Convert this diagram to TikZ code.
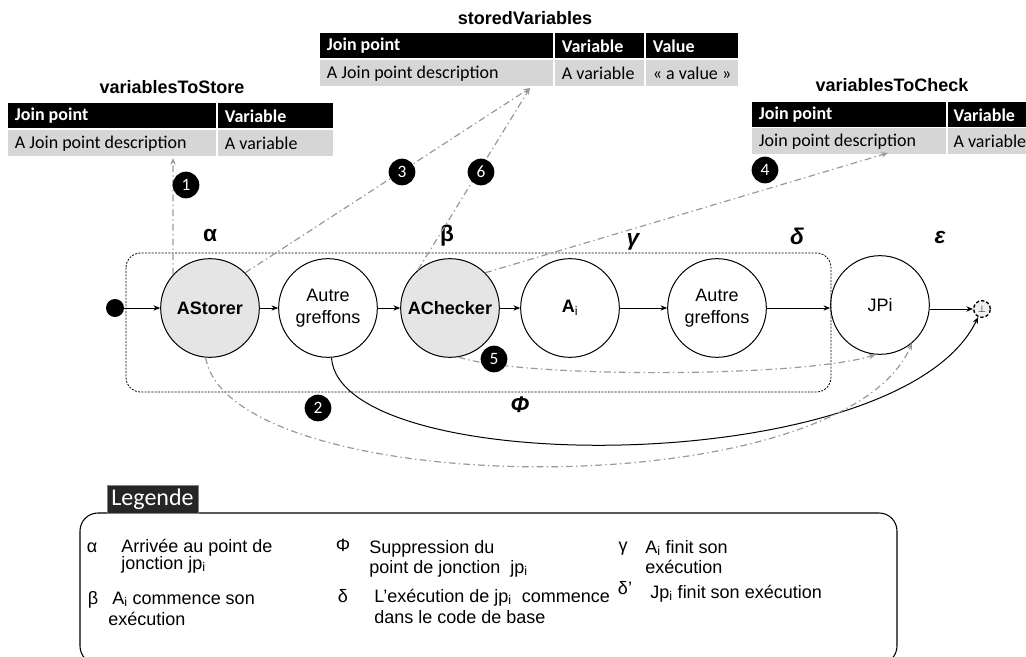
\documentclass[tikz,border=0pt]{standalone}
\usepackage{fontspec}
\setmainfont{Liberation Sans}
\newfontfamily\carl{Carlito}
\usetikzlibrary{arrows.meta}
\begin{document}
\begin{tikzpicture}[x=0.75pt,y=-0.75pt,
  state/.style={circle, draw=black, line width=0.75pt, minimum size=74pt, inner sep=0pt,
    align=center, font=\fontsize{13.5}{16.5}\selectfont},
  greystate/.style={state, fill=black!10},
  flow/.style={-{Stealth[length=5pt,width=4pt]}, line width=0.75pt},
  link/.style={draw=black!40, line width=0.9pt, dash pattern=on 5pt off 2.5pt on 1pt off 2.5pt,
    -{Stealth[length=5pt,width=4pt]}},
  badge/.style={circle, fill=black, text=white, minimum size=20pt, inner sep=0pt,
    font=\carl\fontsize{13}{13}\selectfont},
  cellh/.style={fill=black, text=white, anchor=north west, inner xsep=5pt, inner ysep=0pt,
    minimum height=18.75pt, font=\carl\bfseries\fontsize{13.5}{15}\selectfont},
  celld/.style={fill=black!16, text=black, anchor=north west, inner xsep=5pt, inner ysep=0pt,
    minimum height=19.5pt, font=\carl\fontsize{13.5}{15}\selectfont},
  ttl/.style={font=\bfseries\fontsize{13.5}{15}\selectfont},
  greek/.style={font=\bfseries\fontsize{17}{18}\selectfont},
  greekit/.style={font=\bfseries\itshape\fontsize{17}{18}\selectfont},
  legtxt/.style={font=\fontsize{13.5}{16}\selectfont, inner sep=0pt},
  legsym/.style={font=\fontsize{13.5}{16}\selectfont, inner sep=0pt, anchor=base}
]
\useasboundingbox (0,0) rectangle (1026,657);
\clip (0,0) rectangle (1026,657);

% ---------- tables ----------
\node[ttl] (ttl1) at (172,87) {variablesToStore};
\node[cellh] (t1h1) at (8,103) {\makebox[146pt][l]{Join point}};
\node[cellh] (t1h2) at (218,103) {\makebox[76.25pt][l]{Variable}};
\node[celld] (t1d1) at (8,130) {\makebox[146pt][l]{A Join point description}};
\node[celld] (t1d2) at (218,130) {\makebox[76.25pt][l]{A variable}};

\node[ttl] (ttl2) at (525,18) {storedVariables};
\node[cellh] (t2h1) at (320,33) {\makebox[164.75pt][l]{Join point}};
\node[cellh] (t2h2) at (555,33) {\makebox[56.75pt][l]{Variable}};
\node[cellh] (t2h3) at (646,33) {\makebox[59pt][l]{Value}};
\node[celld] (t2d1) at (320,60) {\makebox[164.75pt][l]{A Join point description}};
\node[celld] (t2d2) at (555,60) {\makebox[56.75pt][l]{A variable}};
\node[celld] (t2d3) at (646,60) {\makebox[59pt][l]{« a value »}};

\node[ttl] (ttl3) at (892,85) {variablesToCheck};
\node[cellh] (t3h1) at (752,102) {\makebox[135.5pt][l]{Join point}};
\node[cellh, inner xsep=4pt] (t3h2) at (948,102) {\makebox[54pt][l]{Variable}};
\node[celld] (t3d1) at (752,128) {\makebox[135.5pt][l]{Join point description}};
\node[celld, inner xsep=4pt] (t3d2) at (948,128) {\makebox[54pt][l]{A variable}};

\coordinate (c1) at (173,158);
\coordinate (c36) at (530,88);
\coordinate (c4) at (888,153);

% ---------- dashed frame ----------
\draw[line width=0.6pt, dash pattern=on 1.5pt off 1pt, rounded corners=11pt] (126,253) rectangle (831,392);

% ---------- states ----------
\node[circle, fill=black, minimum size=13.5pt, inner sep=0pt] (start) at (115,308) {};
\node[greystate] (astorer) at (210,308) {\bfseries AStorer};
\node[state] (autre1) at (328,308) {Autre\\greffons};
\node[greystate] (achecker) at (450,308) {\bfseries AChecker};
\node[state] (ai) at (570,308) {\bfseries A\textsubscript{\mdseries i}};
\node[state] (autre2) at (717,308) {Autre\\greffons};
\node[state] (jpi) at (880,305) {JPi};
\node[circle, draw=black, fill=black!6, line width=1pt, dash pattern=on 2.5pt off 1.5pt,
  minimum size=12.5pt, inner sep=0pt] (endn) at (982,309) {\fontsize{7}{7}\selectfont$\perp$};

\draw[flow] (start) -- (astorer);
\draw[flow] (astorer) -- (autre1);
\draw[flow] (autre1) -- (achecker);
\draw[flow] (achecker) -- (ai);
\draw[flow] (ai) -- (autre2);
\draw[flow] (autre2) -- (jpi.west |- autre2.east);
\draw[flow] (jpi.east |- endn.west) -- (endn);

% ---------- greek labels ----------
\node[greek] (lalpha) at (210,236) {α};
\node[greek] (lbeta) at (447,236) {β};
\node[greekit] (lgamma) at (633,242) {γ};
\node[greekit] (ldelta) at (797,236) {δ};
\node[greekit] (leps) at (940,238) {ε};
\node[greekit] (lphi) at (520,405) {Φ};

% ---------- phi curve ----------
\draw[flow] (autre1) .. controls (340,480) and (900,480) .. (endn);

% ---------- dash-dot links ----------
\draw[link] (astorer.138) -- (c1);
\draw[link] (astorer.45) -- (c36);
\draw[link] (achecker.130) -- (c36);
\draw[link] (achecker.45) -- (c4);
\draw[link] (achecker.-80) .. controls (520,378) and (800,378) .. (jpi.-95);
\draw[link] (astorer.-95) .. controls (230,500) and (840,510) .. (jpi.-50);

% ---------- badges ----------
\node[badge] (b1) at (186,185) {1};
\node[badge] (b2) at (318,408) {2};
\node[badge] (b3) at (402,172) {3};
\node[badge] (b6) at (481,172) {6};
\node[badge] (b4) at (765,170) {4};
\node[badge] (b5) at (494,359) {5};

% ---------- legend ----------
\draw[line width=0.8pt, rounded corners=13.5pt] (80,513) rectangle (897,664);
\node[fill=black!85, draw=black!50, text=white, font=\carl\fontsize{18}{18}\selectfont,
  minimum width=68.25pt, minimum height=21pt, inner sep=0pt] (leg) at (152.5,499) {Legende};

\node[legsym] (sa) at (92,552) {α};
\node[legtxt, anchor=base west] (ta1) at (121,552) {Arrivée au point de};
\node[legtxt, anchor=base west] (ta2) at (121,569) {jonction jp\textsubscript{i}};
\node[legsym] (sb) at (93,604) {β};
\node[legtxt, anchor=base west] (tb1) at (112,604) {A\textsubscript{i} commence son};
\node[legtxt, anchor=base west] (tb2) at (108,625) {exécution};

\node[legsym] (sp) at (343,551) {Φ};
\node[legtxt, anchor=base west] (tp1) at (369,553) {Suppression du};
\node[legtxt, anchor=base west] (tp2) at (369,573) {point de jonction \ jp\textsubscript{i}};
\node[legsym] (sd) at (343,602) {δ};
\node[legtxt, anchor=base west] (td1) at (374,602) {L’exécution de jp\textsubscript{i} \ commence};
\node[legtxt, anchor=base west] (td2) at (374,623) {dans le code de base};

\node[legsym] (sg) at (623,551) {γ};
\node[legtxt, anchor=base west] (tg1) at (645,553) {A\textsubscript{i} finit son};
\node[legtxt, anchor=base west] (tg2) at (645,573) {exécution};
\node[legsym] (sd2) at (625,594) {δ'};
\node[legtxt, anchor=base west] (td3) at (650,598) {Jp\textsubscript{i} finit son exécution};
\end{tikzpicture}
\end{document}
